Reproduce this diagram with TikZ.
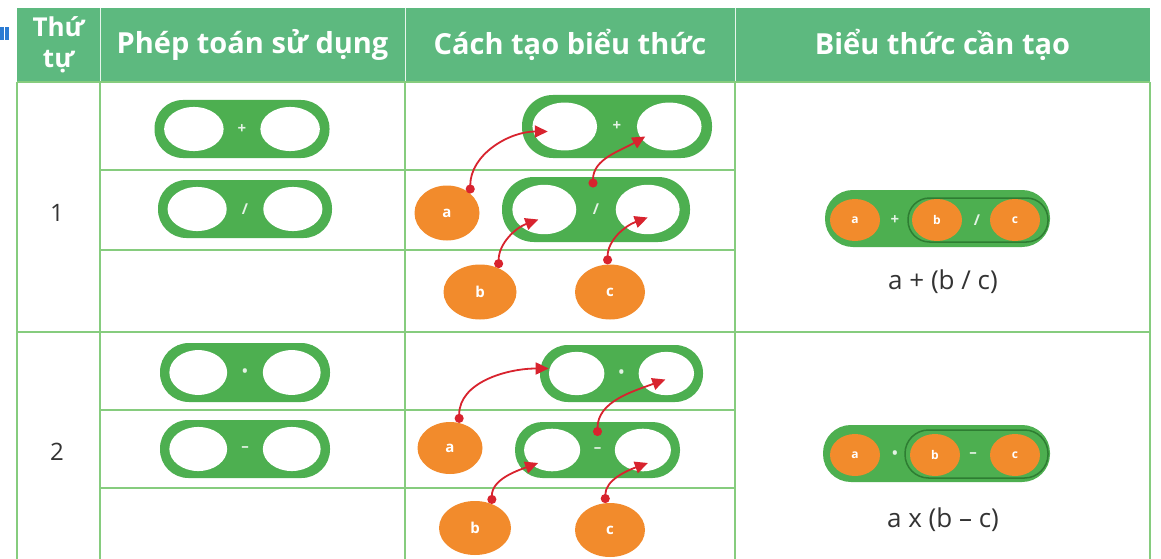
\documentclass[tikz,border=0pt]{standalone}
\usepackage{fontspec}
\setmainfont{Open Sans}
\usetikzlibrary{arrows.meta,shapes.geometric,calc}
\definecolor{hdrc}{HTML}{5DB97F}
\definecolor{gridc}{HTML}{86CC7E}
\definecolor{blkc}{HTML}{4DAF50}
\definecolor{orngc}{HTML}{F28B2C}
\definecolor{lnkc}{HTML}{D8232E}
\definecolor{dkgc}{HTML}{2E7D32}
\definecolor{numc}{HTML}{333333}
\definecolor{iconc}{HTML}{2A7BD3}
\tikzset{
  gridline/.style={draw=gridc, line width=1.6pt},
  hdrtxt/.style={text=white, font=\bfseries\fontsize{29}{32}\selectfont, inner sep=0, align=center},
  numtxt/.style={text=numc, font=\fontsize{24}{26}\selectfont, inner sep=0},
  stad/.style={rectangle, fill=blkc, inner sep=0},
  hole/.style={ellipse, fill=white, inner sep=0},
  opsym/.style={text=white!85!blkc, font=\bfseries\fontsize{15}{15}\selectfont, inner sep=0},
  orb/.style={ellipse, fill=orngc, text=white, font=\bfseries\fontsize{15}{15}\selectfont, inner sep=0},
  orbs/.style={ellipse, fill=orngc, text=white, font=\bfseries\fontsize{12}{12}\selectfont, inner sep=0, minimum width=50pt, minimum height=42pt},
  link/.style={draw=lnkc, line width=1.8pt, {Circle[length=9pt]}-{Triangle[length=13pt,width=12pt]}},
  exprtxt/.style={text=numc, font=\fontsize{26}{28}\selectfont, inner sep=0}
}
\newcommand\opblock[6]{%
  \pgfmathsetmacro\obr{0.49*#5}%
  \pgfmathsetmacro\obdx{0.275*#4}%
  \pgfmathsetmacro\obew{0.34*#4}%
  \pgfmathsetmacro\obeh{0.76*#5}%
  \node[stad, minimum width=#4pt, minimum height=#5pt, rounded corners=\obr pt] (#1) at (#2,#3) {};
  \node[hole, minimum width=\obew pt, minimum height=\obeh pt] (#1L) at (#2-\obdx,#3) {};
  \node[hole, minimum width=\obew pt, minimum height=\obeh pt] (#1R) at (#2+\obdx,#3) {};
  \node[opsym] (#1S) at (#2,#3) {#6};
}
\begin{document}
\begin{tikzpicture}[x=1pt,y=1pt]
\useasboundingbox (0,0) rectangle (1161,-559);
\fill[white] (0,0) rectangle (1161,-559);
% icon fragment
\fill[iconc] (0,-27) rectangle (9,-40);
\draw[white, line width=1pt] (4,-27) -- (4,-40);
% header
\fill[hdrc] (17,-8) rectangle (1150,-82);
\foreach \xx in {100,405,735} \draw[white!85!hdrc, line width=1pt] (\xx,-8) -- (\xx,-82);
% grid
\foreach \xx in {17,100,405,735,1150} \draw[gridline] (\xx,-82) -- (\xx,-559);
\draw[gridline] (17,-82) -- (1150,-82);
\draw[gridline] (17,-332) -- (1150,-332);
\foreach \yy in {170,250,410,488} \draw[gridline] (100,-\yy) -- (735,-\yy);
% header text
\node[hdrtxt, font=\bfseries\fontsize{26}{31}\selectfont] (h1) at (58.5,-45) {Thứ\\tự};
\node[hdrtxt] (h2) at (252.5,-45) {Phép toán sử dụng};
\node[hdrtxt] (h3) at (570,-45) {Cách tạo biểu thức};
\node[hdrtxt] (h4) at (942.5,-45) {Biểu thức cần tạo};
% row numbers
\node[numtxt] (n1) at (57,-213) {1};
\node[numtxt] (n2) at (57,-452) {2};
% column 2 blocks
\opblock{P1a}{242}{-129}{175}{58}{+}
\opblock{P1b}{245}{-209}{174}{58}{/}
\opblock{P2a}{245}{-372.5}{170}{59}{•}
\opblock{P2b}{245}{-449}{170}{58}{–}
% column 3 blocks
\opblock{C1a}{617}{-126.5}{190}{63}{+}
\opblock{C1b}{596}{-209.5}{188}{65}{/}
\opblock{C2a}{621.5}{-373.5}{163}{57}{•}
\opblock{C2b}{597.5}{-450}{165}{56}{–}
% operands
\node[orb, minimum width=65pt, minimum height=55pt] (A1) at (447,-213) {a};
\node[orb, minimum width=73pt, minimum height=55pt] (B1) at (480,-292) {b};
\node[orb, minimum width=70pt, minimum height=55pt] (K1) at (610,-292) {c};
\node[orb, minimum width=65pt, minimum height=52pt] (A2) at (450,-448) {a};
\node[orb, minimum width=72pt, minimum height=54pt] (B2) at (475,-528) {b};
\node[orb, minimum width=70pt, minimum height=54pt] (K2) at (610,-530) {c};
% links row 1
\draw[link] (A1.40) to[out=90,in=180] ($(C1aL.center)+(-17,-5)$);
\draw[link] ($(C1b.center)+(-3,22)$) to[out=90,in=210] ($(C1aR.center)+(-24,-10)$);
\draw[link] (B1.52) to[out=90,in=200] ($(C1bL.center)+(-6,-10)$);
\draw[link] (K1.95) to[out=90,in=200] ($(C1bR.center)+(0,-8)$);
% links row 2
\draw[link] (A2.70) to[out=90,in=180] ($(C2aL.center)+(-28,5)$);
\draw[link] ($(C2b.center)+(0,14)$) to[out=90,in=200] ($(C2aR.center)+(-1,-6)$);
\draw[link] (B2.55) to[out=90,in=200] ($(C2bL.center)+(-14,-13)$);
\draw[link] (K2.100) to[out=90,in=200] ($(C2bR.center)+(5,-13)$);
% column 4 row 1
\node[stad, minimum width=225pt, minimum height=57pt, rounded corners=27.9pt] (E1) at (937.5,-218.5) {};
\node[rectangle, draw=dkgc, line width=1.5pt, minimum width=140pt, minimum height=44pt, rounded corners=21.5pt] (E1in) at (978,-220) {};
\node[orbs] (E1a) at (855,-220) {a};
\node[orbs] (E1b) at (937,-220) {b};
\node[orbs] (E1c) at (1015,-220) {c};
\node[opsym] (E1p) at (895,-220) {+};
\node[opsym] (E1q) at (977,-220) {/};
\node[exprtxt] (T1) at (943,-282) {a + (b / c)};
% column 4 row 2
\node[stad, minimum width=227pt, minimum height=57pt, rounded corners=27.9pt] (E2) at (936.5,-453.5) {};
\node[rectangle, draw=dkgc, line width=1.5pt, minimum width=143pt, minimum height=48pt, rounded corners=23.5pt] (E2in) at (976.5,-454) {};
\node[orbs] (E2a) at (855,-455) {a};
\node[orbs] (E2b) at (935,-455) {b};
\node[orbs] (E2c) at (1015,-455) {c};
\node[opsym] (E2p) at (895,-455) {•};
\node[opsym] (E2q) at (973,-455) {–};
\node[exprtxt] (T2) at (943,-520) {a x (b – c)};
\end{tikzpicture}
\end{document}
